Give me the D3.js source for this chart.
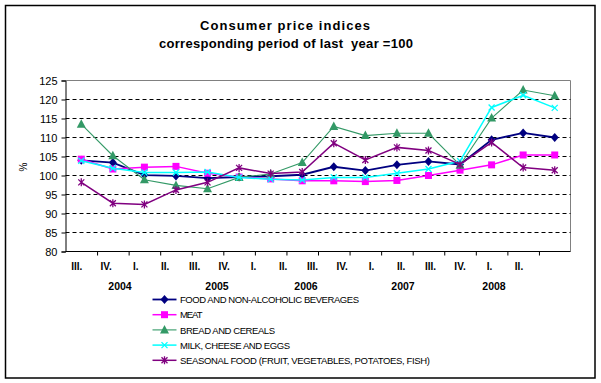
<!DOCTYPE html>
<html>
<head>
<meta charset="utf-8">
<script src="https://cdn.jsdelivr.net/npm/d3@7"></script>
<style>
  html, body { margin: 0; padding: 0; background: #fff; }
  svg { display: block; font-family: "Liberation Sans", Arial, sans-serif; }
</style>
</head>
<body>
<svg id="chart" width="601" height="383"></svg>
<script>
// ---- data ----
const quarters = ["III.","IV.","I.","II.","III.","IV.","I.","II.","III.","IV.","I.","II.","III.","IV.","I.","II."];
const years = ["2004","2005","2006","2007","2008"];
const yTicks = [80, 85, 90, 95, 100, 105, 110, 115, 120, 125];

const seriesNames = [
  "FOOD AND NON-ALCOHOLIC BEVERAGES",
  "MEAT",
  "BREAD AND CEREALS",
  "MILK, CHEESE AND EGGS",
  "SEASONAL FOOD (FRUIT, VEGETABLES, POTATOES, FISH)"
];
const food     = [104.0, 103.4, 100.1, 99.9, 99.3, 99.6, 99.8, 100.2, 102.3, 101.3, 102.8, 103.7, 102.9, 109.4, 111.2, 110.0];
const meat     = [104.3, 101.7, 102.2, 102.4, 100.6, 99.6, 99.1, 98.6, 98.6, 98.4, 98.7, 100.0, 101.4, 102.8, 105.4, 105.4];
const bread    = [113.5, 105.2, 98.9, 97.4, 96.5, 99.5, 100.4, 103.4, 112.9, 110.5, 111.1, 111.1, 102.7, 115.1, 122.5, 121.0];
const milk     = [103.9, 101.9, 100.8, 100.8, 100.9, 99.5, 99.0, 98.8, 99.5, 99.5, 100.6, 101.7, 103.8, 117.9, 121.1, 117.8];
const seasonal = [98.2, 92.7, 92.4, 96.2, 98.2, 102.0, 100.5, 100.9, 108.5, 104.1, 107.4, 106.6, 102.9, 108.7, 102.1, 101.4];

// ---- layout / style ----
const plot = { left: 65.5, right: 570.5, top: 80.5, bottom: 251.5 };
const yearLabelX = [120, 217, 306, 403, 494];
const styles = [
  { color: "#000080", width: 1.8, marker: "diamond" },
  { color: "#FF00FF", width: 1.5, marker: "square" },
  { color: "#339966", width: 1.1, marker: "triangle" },
  { color: "#00FFFF", width: 1.5, marker: "cross" },
  { color: "#800080", width: 1.5, marker: "star" }
];
const allSeries = [food, meat, bread, milk, seasonal];

const svg = d3.select("#chart");

// outer border
svg.append("rect").attr("x", 5.5).attr("y", 5.5).attr("width", 589.5).attr("height", 372.5)
  .attr("fill", "none").attr("stroke", "#000").attr("stroke-width", 1.5);

// titles
svg.append("text").attr("x", 285).attr("y", 30).attr("text-anchor", "middle")
  .attr("font-size", 13).attr("font-weight", "bold")
  .attr("textLength", 170).attr("lengthAdjust", "spacing")
  .text("Consumer price indices");
svg.append("text").attr("x", 286).attr("y", 47.5).attr("text-anchor", "middle")
  .attr("font-size", 13).attr("font-weight", "bold")
  .attr("textLength", 254).attr("lengthAdjust", "spacing")
  .attr("xml:space", "preserve")
  .text("corresponding period of last  year =100");

// scales
const xIdx = d3.scaleLinear().domain([0, quarters.length]).range([plot.left, plot.right]);
const keys = quarters.map((q, i) => i);
const xLabel = d3.scalePoint().domain(keys).range([76.7, 519]);
const y = d3.scaleLinear().domain([80, 125]).range([plot.bottom, plot.top]);

// plot frame (top/right grey)
svg.append("path")
  .attr("d", `M${plot.left},${plot.top}H${plot.right}V${plot.bottom}`)
  .attr("fill", "none").attr("stroke", "#808080").attr("stroke-width", 1);

// gridlines
svg.append("g").selectAll("line")
  .data(yTicks.filter(t => t > 80 && t < 125))
  .join("line")
  .attr("x1", plot.left).attr("x2", plot.right)
  .attr("y1", d => y(d)).attr("y2", d => y(d))
  .attr("stroke", "#000").attr("stroke-width", 1).attr("stroke-dasharray", "4,3");

// y axis
const yAxis = svg.append("g").attr("transform", `translate(${plot.left},0)`)
  .call(d3.axisLeft(y).tickValues(yTicks).tickSize(4).tickPadding(4).tickFormat(d3.format("d")));
yAxis.select(".domain").attr("stroke", "#000");
yAxis.selectAll("text").attr("font-size", 11).attr("font-family", "\"Liberation Sans\", Arial, sans-serif").attr("fill", "#000");

// x axis
const xAxis = svg.append("g").attr("transform", `translate(0,${plot.bottom})`)
  .call(d3.axisBottom(xIdx).tickValues(d3.range(1, quarters.length)).tickSize(4).tickSizeOuter(0).tickFormat(""));
xAxis.select(".domain").attr("stroke", "#000").attr("d", `M${plot.left},0H${plot.right}`);

// x labels
svg.append("g").selectAll("text").data(keys).join("text")
  .attr("x", d => xLabel(d)).attr("y", 269.5).attr("text-anchor", "middle")
  .attr("font-size", 10).attr("font-weight", "bold")
  .text(d => quarters[d]);

svg.append("g").selectAll("text").data(years).join("text")
  .attr("x", (d, i) => yearLabelX[i]).attr("y", 290).attr("text-anchor", "middle")
  .attr("font-size", 10.5).attr("font-weight", "bold")
  .text(d => d);

// % label
svg.append("text").attr("transform", "translate(27,167) rotate(-90)")
  .attr("text-anchor", "middle").attr("font-size", 10).text("%");

// markers
function drawMarker(g, type, color, cx, cy) {
  if (type === "diamond") {
    g.append("path").attr("d", `M${cx},${cy-4.5}L${cx+4},${cy}L${cx},${cy+4.5}L${cx-4},${cy}Z`).attr("fill", color);
  } else if (type === "square") {
    g.append("rect").attr("x", cx - 3.5).attr("y", cy - 3.5).attr("width", 7).attr("height", 7).attr("fill", color);
  } else if (type === "triangle") {
    g.append("path").attr("d", `M${cx},${cy-5}L${cx+4.5},${cy+3.5}L${cx-4.5},${cy+3.5}Z`).attr("fill", color);
  } else if (type === "cross") {
    g.append("path").attr("d", `M${cx-3},${cy-3}L${cx+3},${cy+3}M${cx-3},${cy+3}L${cx+3},${cy-3}`)
      .attr("stroke", color).attr("stroke-width", 1.3).attr("fill", "none");
  } else if (type === "star") {
    g.append("path").attr("d", `M${cx-3},${cy-3}L${cx+3},${cy+3}M${cx-3},${cy+3}L${cx+3},${cy-3}M${cx},${cy-4}L${cx},${cy+4}`)
      .attr("stroke", color).attr("stroke-width", 1.3).attr("fill", "none");
  }
}

const line = d3.line().x((d, i) => xIdx(i + 0.5)).y(d => y(d));
allSeries.forEach((vals, s) => {
  const st = styles[s];
  const g = svg.append("g");
  g.append("path").datum(vals).attr("d", line)
    .attr("fill", "none").attr("stroke", st.color).attr("stroke-width", st.width);
  vals.forEach((v, i) => drawMarker(g, st.marker, st.color, xIdx(i + 0.5), y(v)));
});

// legend
const legendTextLen = [179, 22.5, 95, 110, 250];
const legendY0 = 299.5, legendStep = 15.2;
seriesNames.forEach((name, s) => {
  const st = styles[s];
  const ly = legendY0 + s * legendStep;
  const g = svg.append("g");
  g.append("line").attr("x1", 152.5).attr("x2", 176.5).attr("y1", ly).attr("y2", ly)
    .attr("stroke", st.color).attr("stroke-width", st.width);
  drawMarker(g, st.marker, st.color, 164.5, ly);
  g.append("text").attr("x", 180).attr("y", ly + 3.6).attr("font-size", 9.5)
    .attr("textLength", legendTextLen[s]).attr("lengthAdjust", "spacing")
    .text(name);
});
</script>
</body>
</html>
